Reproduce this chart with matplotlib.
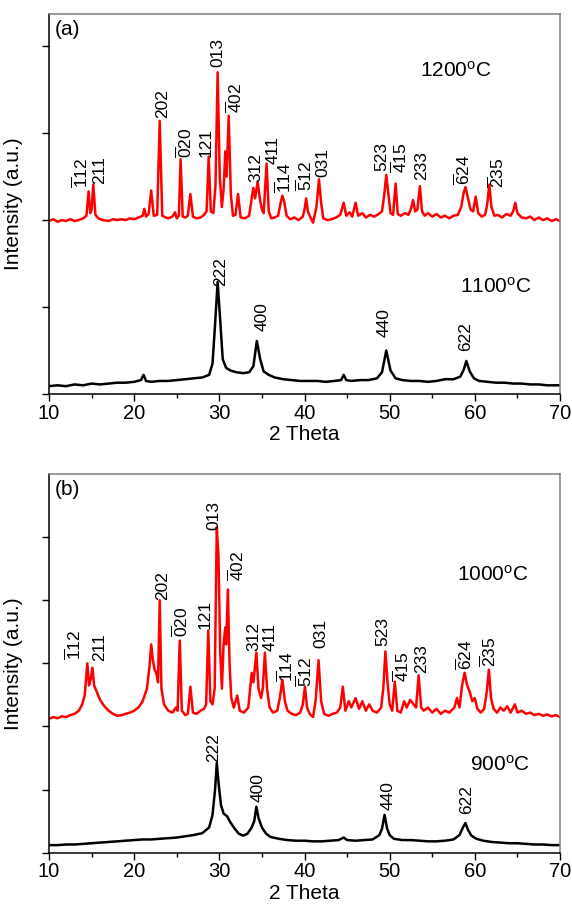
import matplotlib
matplotlib.use("Agg")
import matplotlib.pyplot as plt
from matplotlib.ticker import MultipleLocator

plt.rcParams['font.family'] = ['Liberation Sans', 'DejaVu Sans']
plt.rcParams['mathtext.fontset'] = 'custom'
plt.rcParams['mathtext.rm'] = 'Liberation Sans'
plt.rcParams['mathtext.it'] = 'Liberation Sans:italic'
plt.rcParams['mathtext.default'] = 'regular'

# ---------------- data ----------------
# Panel (a), 1200 C (red, offset trace)
a_red_x = [10.0, 10.5, 11.0, 11.5, 12.0, 12.5, 13.0, 13.5, 14.0, 14.4, 14.65, 14.85, 15.0, 15.2, 15.45, 15.8,
           16.3, 17.0, 17.5, 18.0, 18.5, 19.0, 19.5, 20.0, 20.5, 21.0, 21.2, 21.4, 21.7, 22.0, 22.3, 22.7,
           23.0, 23.3, 23.7, 24.0, 24.5, 24.8, 25.0, 25.25, 25.45, 25.7, 26.0, 26.3, 26.6, 26.9, 27.3, 27.8,
           28.2, 28.5, 28.75, 29.0, 29.3, 29.55, 29.8, 30.05, 30.3, 30.5, 30.7, 30.85, 31.1, 31.35, 31.6,
           31.9, 32.2, 32.5, 33.0, 33.5, 33.8, 34.0, 34.2, 34.5, 34.8, 35.0, 35.2, 35.55, 35.8, 36.1, 36.5,
           36.9, 37.2, 37.4, 37.6, 37.9, 38.3, 38.8, 39.3, 39.8, 40.0, 40.2, 40.4, 40.7, 41.0, 41.4, 41.7,
           41.95, 42.2, 42.7, 43.2, 43.7, 44.2, 44.6, 44.9, 45.3, 45.6, 46.0, 46.3, 46.8, 47.2, 47.7, 48.2,
           48.7, 49.1, 49.35, 49.6, 49.85, 50.1, 50.4, 50.7, 50.95, 51.3, 51.8, 52.2, 52.5, 52.75, 53.0,
           53.25, 53.55, 53.8, 54.1, 54.5, 55.0, 55.5, 56.0, 56.5, 57.0, 57.5, 58.0, 58.4, 58.7, 58.9, 59.2,
           59.5, 59.8, 60.1, 60.4, 60.8, 61.2, 61.45, 61.7, 61.95, 62.3, 62.7, 63.2, 63.7, 64.2, 64.5, 64.75,
           65.0, 65.5, 66.0, 66.5, 67.0, 67.5, 68.0, 68.5, 69.0, 69.5, 70.0]
a_red_y = [1.99, 2.01, 1.98, 2.00, 1.99, 2.01, 1.99, 2.00, 2.02, 2.05, 2.33, 2.08, 2.12, 2.41, 2.06, 2.02,
           2.00, 1.99, 2.01, 2.00, 2.01, 2.00, 2.02, 2.01, 2.03, 2.05, 2.13, 2.04, 2.07, 2.34, 2.05, 2.06,
           3.14, 2.05, 2.03, 2.02, 2.04, 2.09, 2.02, 2.05, 2.70, 2.04, 2.03, 2.05, 2.30, 2.04, 2.02, 2.03,
           2.06, 2.10, 2.73, 2.10, 2.08, 2.40, 3.70, 2.50, 2.15, 2.35, 2.79, 2.50, 3.20, 2.30, 2.05,
           2.06, 2.30, 2.03, 2.02, 2.05, 2.25, 2.37, 2.25, 2.44, 2.22, 2.12, 2.08, 2.65, 2.10, 2.02, 2.03,
           2.05, 2.20, 2.28, 2.22, 2.05, 2.01, 2.03, 2.00, 2.04, 2.12, 2.25, 2.10, 2.03, 1.97, 2.15, 2.47,
           2.20, 2.02, 2.00, 2.01, 2.03, 2.06, 2.20, 2.05, 2.09, 2.04, 2.20, 2.05, 2.08, 2.03, 2.06, 2.04,
           2.07, 2.10, 2.28, 2.52, 2.30, 2.08, 2.06, 2.42, 2.07, 2.05, 2.08, 2.06, 2.13, 2.23, 2.10,
           2.12, 2.39, 2.10, 2.05, 2.08, 2.04, 2.07, 2.03, 2.05, 2.02, 2.05, 2.06, 2.15, 2.32, 2.38, 2.25,
           2.12, 2.10, 2.27, 2.08, 2.04, 2.06, 2.18, 2.41, 2.15, 2.05, 2.06, 2.03, 2.07, 2.05, 2.10, 2.20,
           2.08, 2.03, 2.02, 2.04, 2.00, 2.03, 2.00, 2.02, 1.99, 2.01, 1.99]

# Panel (a), 1100 C (black)
a_blk_x = [10, 11, 12, 13, 14, 15, 16, 17, 18, 19, 20, 20.8, 21.1, 21.4, 22, 23, 24, 25, 26, 27, 28, 28.8,
           29.2, 29.5, 29.8, 30.1, 30.4, 30.8, 31.3, 32, 32.8, 33.5, 34.0, 34.4, 34.8, 35.2, 35.8, 36.5,
           37.5, 38.5, 39.5, 40.5, 41.5, 42.5, 43.5, 44.3, 44.6, 44.9, 45.5, 46.5, 47.5, 48.5, 49.1, 49.6,
           50.1, 50.7, 51.5, 52.5, 53.5, 54.5, 55.5, 56.5, 57.5, 58.3, 58.7, 59.0, 59.4, 59.9, 60.5, 61.5,
           62.5, 63.5, 64.5, 65.5, 66.5, 67.5, 68.5, 69.5, 70]
a_blk_y = [0.09, 0.10, 0.09, 0.11, 0.10, 0.12, 0.11, 0.12, 0.13, 0.13, 0.14, 0.16, 0.22, 0.15, 0.14, 0.15,
           0.15, 0.16, 0.17, 0.18, 0.19, 0.22, 0.35, 0.80, 1.29, 0.85, 0.40, 0.30, 0.27, 0.25, 0.24, 0.25,
           0.32, 0.61, 0.40, 0.26, 0.22, 0.19, 0.17, 0.16, 0.15, 0.15, 0.15, 0.14, 0.15, 0.16, 0.22, 0.16,
           0.15, 0.16, 0.16, 0.18, 0.25, 0.50, 0.27, 0.18, 0.16, 0.15, 0.15, 0.14, 0.15, 0.17, 0.17, 0.20,
           0.28, 0.38, 0.26, 0.18, 0.15, 0.14, 0.13, 0.13, 0.12, 0.12, 0.11, 0.11, 0.10, 0.10, 0.10]

# Panel (b), 1000 C (red, offset trace)
b_red_x = [10, 10.5, 11, 11.5, 12, 12.5, 13, 13.5, 13.9, 14.2, 14.5, 14.7, 14.9, 15.1, 15.3, 15.6, 16.0,
           16.5, 17.0, 17.5, 18.0, 18.5, 19.0, 19.5, 20.0, 20.5, 21.0, 21.5, 21.8, 22.0, 22.2, 22.4, 22.6,
           22.8, 23.0, 23.2, 23.5, 24.0, 24.5, 24.9, 25.1, 25.35, 25.6, 26.0, 26.3, 26.6, 26.9, 27.3, 27.8,
           28.2, 28.45, 28.7, 28.95, 29.2, 29.45, 29.7, 29.9, 30.1, 30.3, 30.5, 30.7, 30.8, 31.0, 31.2,
           31.4, 31.7, 32.1, 32.4, 32.9, 33.4, 33.8, 34.0, 34.35, 34.6, 34.9, 35.1, 35.35, 35.6, 35.9, 36.3,
           36.8, 37.1, 37.4, 37.7, 38.0, 38.5, 39.0, 39.5, 39.8, 40.05, 40.3, 40.6, 41.0, 41.3, 41.65, 41.95,
           42.3, 42.8, 43.3, 43.8, 44.2, 44.5, 44.8, 45.2, 45.5, 46.0, 46.4, 46.8, 47.2, 47.6, 48.0, 48.5,
           49.0, 49.25, 49.5, 49.75, 50.0, 50.3, 50.6, 50.9, 51.3, 51.7, 52.0, 52.4, 52.8, 53.1, 53.4, 53.7,
           54.0, 54.5, 55.0, 55.5, 56.0, 56.5, 57.0, 57.6, 57.9, 58.2, 58.5, 58.8, 59.1, 59.4, 59.7, 60.0,
           60.3, 60.7, 61.1, 61.4, 61.65, 61.9, 62.2, 62.6, 63.0, 63.4, 63.8, 64.2, 64.7, 65.0, 65.5, 66.0,
           66.5, 67.0, 67.5, 68.0, 68.5, 69.0, 69.5, 70.0]
b_red_y = [2.12, 2.15, 2.13, 2.16, 2.15, 2.18, 2.20, 2.25, 2.35, 2.50, 3.00, 2.65, 2.75, 2.93, 2.65, 2.55, 2.42,
           2.32, 2.25, 2.20, 2.17, 2.18, 2.20, 2.22, 2.25, 2.30, 2.40, 2.60, 2.95, 3.30, 3.05, 2.90, 2.85,
           2.70, 4.00, 2.60, 2.35, 2.25, 2.22, 2.30, 2.25, 3.36, 2.25, 2.18, 2.20, 2.63, 2.22, 2.20, 2.25,
           2.28, 2.35, 3.52, 2.40, 2.35, 2.60, 5.16, 4.70, 3.20, 2.60, 3.30, 3.57, 3.30, 4.17, 3.00,
           2.45, 2.30, 2.49, 2.25, 2.22, 2.30, 2.85, 2.70, 3.17, 2.60, 2.45, 2.60, 3.17, 2.60, 2.30, 2.22,
           2.25, 2.45, 2.74, 2.40, 2.25, 2.20, 2.18, 2.22, 2.35, 2.63, 2.30, 2.20, 2.15, 2.40, 3.05, 2.40,
           2.20, 2.17, 2.20, 2.22, 2.30, 2.63, 2.25, 2.40, 2.30, 2.45, 2.28, 2.40, 2.25, 2.35, 2.25, 2.22,
           2.30, 2.60, 3.19, 2.70, 2.35, 2.25, 2.71, 2.25, 2.22, 2.40, 2.30, 2.42, 2.35, 2.30, 2.81, 2.30,
           2.25, 2.30, 2.22, 2.28, 2.20, 2.25, 2.22, 2.30, 2.45, 2.30, 2.65, 2.85, 2.65, 2.55, 2.40, 2.45,
           2.28, 2.22, 2.28, 2.55, 2.90, 2.45, 2.28, 2.22, 2.30, 2.25, 2.32, 2.22, 2.35, 2.22, 2.25, 2.20,
           2.22, 2.18, 2.20, 2.17, 2.19, 2.16, 2.18, 2.15]

# Panel (b), 900 C (black)
b_blk_x = [10, 11, 12, 13, 14, 15, 16, 17, 18, 19, 20, 21, 22, 23, 24, 25, 26, 27, 28, 28.8, 29.2, 29.5, 29.7,
           29.95, 30.2, 30.5, 30.9, 31.3, 31.8, 32.3, 32.8, 33.3, 33.8, 34.1, 34.35, 34.6, 35.0, 35.5, 36.0,
           37, 38, 39, 40, 41, 42, 43, 44, 44.6, 45, 46, 47, 48, 48.8, 49.1, 49.4, 49.7, 50.0, 50.5, 51.5,
           52.5, 53.5, 54.5, 55.5, 56.5, 57.5, 58.2, 58.6, 58.9, 59.2, 59.6, 60.2, 61, 62, 63, 64, 65, 66,
           67, 68, 69, 70]
b_blk_y = [0.12, 0.12, 0.13, 0.13, 0.14, 0.15, 0.16, 0.17, 0.18, 0.19, 0.20, 0.21, 0.21, 0.22, 0.23, 0.24,
           0.26, 0.28, 0.31, 0.40, 0.60, 1.00, 1.42, 1.05, 0.75, 0.62, 0.58, 0.48, 0.38, 0.30, 0.27, 0.30,
           0.40, 0.50, 0.73, 0.55, 0.40, 0.30, 0.25, 0.22, 0.20, 0.19, 0.19, 0.18, 0.18, 0.19, 0.20, 0.24,
           0.20, 0.19, 0.20, 0.21, 0.28, 0.38, 0.60, 0.38, 0.28, 0.22, 0.20, 0.20, 0.19, 0.18, 0.18, 0.19,
           0.21, 0.28, 0.40, 0.47, 0.36, 0.27, 0.22, 0.19, 0.17, 0.16, 0.15, 0.15, 0.14, 0.13, 0.13, 0.12,
           0.12]

# Peak index labels (Miller indices)
red_labels = [r'$\overline{1}12$', '211', '202', r'$\overline{0}20$', '121', '013', r'$\overline{4}02$',
              '312', '411', r'$\overline{1}14$', r'$\overline{5}12$', '031', '523', r'$\overline{4}15$',
              '233', r'$\overline{6}24$', r'$\overline{2}35$']
a_red_lab_x = [13.7, 16.0, 23.4, 26.0, 28.4, 29.8, 31.8, 34.3, 36.3, 37.55, 40.05, 42.2, 49.1, 51.2, 53.7, 58.6, 62.6]
a_red_lab_y = [2.37, 2.42, 3.17, 2.71, 2.72, 3.76, 3.23, 2.44, 2.65, 2.31, 2.33, 2.50, 2.56, 2.54, 2.46, 2.40, 2.37]
b_red_lab_x = [12.9, 16.0, 23.4, 25.5, 28.3, 29.4, 32.1, 34.0, 35.95, 37.8, 40.0, 41.9, 49.2, 51.4, 53.7, 58.8, 61.7]
b_red_lab_y = [3.06, 3.03, 4.01, 3.41, 3.54, 5.12, 4.30, 3.19, 3.19, 2.71, 2.63, 3.25, 3.27, 2.70, 2.85, 2.90, 2.95]

blk_labels = ['222', '400', '440', '622']
a_blk_lab_x = [30.1, 35.0, 49.4, 58.9]
a_blk_lab_y = [1.24, 0.72, 0.66, 0.49]
b_blk_lab_x = [29.3, 34.5, 49.8, 59.0]
b_blk_lab_y = [1.44, 0.81, 0.68, 0.61]

temps_a = ['1200$^{\\rm o}$C', '1100$^{\\rm o}$C']
temps_b = ['1000$^{\\rm o}$C', '900$^{\\rm o}$C']
temp_a_pos = [(57.8, 3.72), (62.4, 1.23)]
temp_b_pos = [(62.1, 4.41), (63.0, 1.39)]

xticks = [10, 20, 30, 40, 50, 60, 70]

# ---------------- figure ----------------
W, H = 572, 915
fig = plt.figure(figsize=(W / 100, H / 100), dpi=100)
L, R = 49 / W, 560 / W
axA = fig.add_axes([L, 1 - 394 / H, R - L, (394 - 14) / H])
axB = fig.add_axes([L, 1 - 852.7 / H, R - L, (852.7 - 474) / H])

LAB_FS = 12.5
TXT_FS = 15
AX_FS = 15


def style(ax, ymax, nyt, letter):
    ax.set_xlim(10, 70)
    ax.set_ylim(0, ymax)
    ax.set_xticks(xticks)
    ax.xaxis.set_minor_locator(MultipleLocator(5))
    ax.set_yticks(list(range(nyt)))
    ax.set_yticklabels([])
    ax.tick_params(axis='x', which='major', direction='out', length=5, width=1, labelsize=14.5, pad=2)
    ax.tick_params(axis='x', which='minor', direction='out', length=3, width=1)
    ax.tick_params(axis='y', which='major', direction='out', length=5, width=1)
    ax.tick_params(top=False, right=False)
    for s in ['left', 'bottom']:
        ax.spines[s].set_color('black')
        ax.spines[s].set_linewidth(1.1)
    for s in ['top', 'right']:
        ax.spines[s].set_color('#808080')
        ax.spines[s].set_linewidth(1.1)
    ax.set_xlabel('2 Theta', fontsize=AX_FS, labelpad=2)
    ax.set_ylabel('Intensity (a.u.)', fontsize=AX_FS, labelpad=10)
    ax.text(0.012, 0.985, letter, transform=ax.transAxes, fontsize=15, ha='left', va='top')


style(axA, 4.37, 5, '(a)')
style(axB, 6.0, 6, '(b)')

axA.plot(a_red_x, a_red_y, color='#ff0000', lw=1.8)
axA.plot(a_blk_x, a_blk_y, color='black', lw=1.8)
axB.plot(b_red_x, b_red_y, color='#ff0000', lw=1.8)
axB.plot(b_blk_x, b_blk_y, color='black', lw=1.8)

for lab, x, y in zip(red_labels, a_red_lab_x, a_red_lab_y):
    axA.text(x, y, lab, rotation=90, ha='center', va='bottom', fontsize=LAB_FS)
for lab, x, y in zip(blk_labels, a_blk_lab_x, a_blk_lab_y):
    axA.text(x, y, lab, rotation=90, ha='center', va='bottom', fontsize=LAB_FS)
for lab, x, y in zip(red_labels, b_red_lab_x, b_red_lab_y):
    axB.text(x, y, lab, rotation=90, ha='center', va='bottom', fontsize=LAB_FS)
for lab, x, y in zip(blk_labels, b_blk_lab_x, b_blk_lab_y):
    axB.text(x, y, lab, rotation=90, ha='center', va='bottom', fontsize=LAB_FS)

for t, (x, y) in zip(temps_a, temp_a_pos):
    axA.text(x, y, t, ha='center', va='center', fontsize=TXT_FS)
for t, (x, y) in zip(temps_b, temp_b_pos):
    axB.text(x, y, t, ha='center', va='center', fontsize=TXT_FS)

fig.savefig('out.png', dpi=100)
